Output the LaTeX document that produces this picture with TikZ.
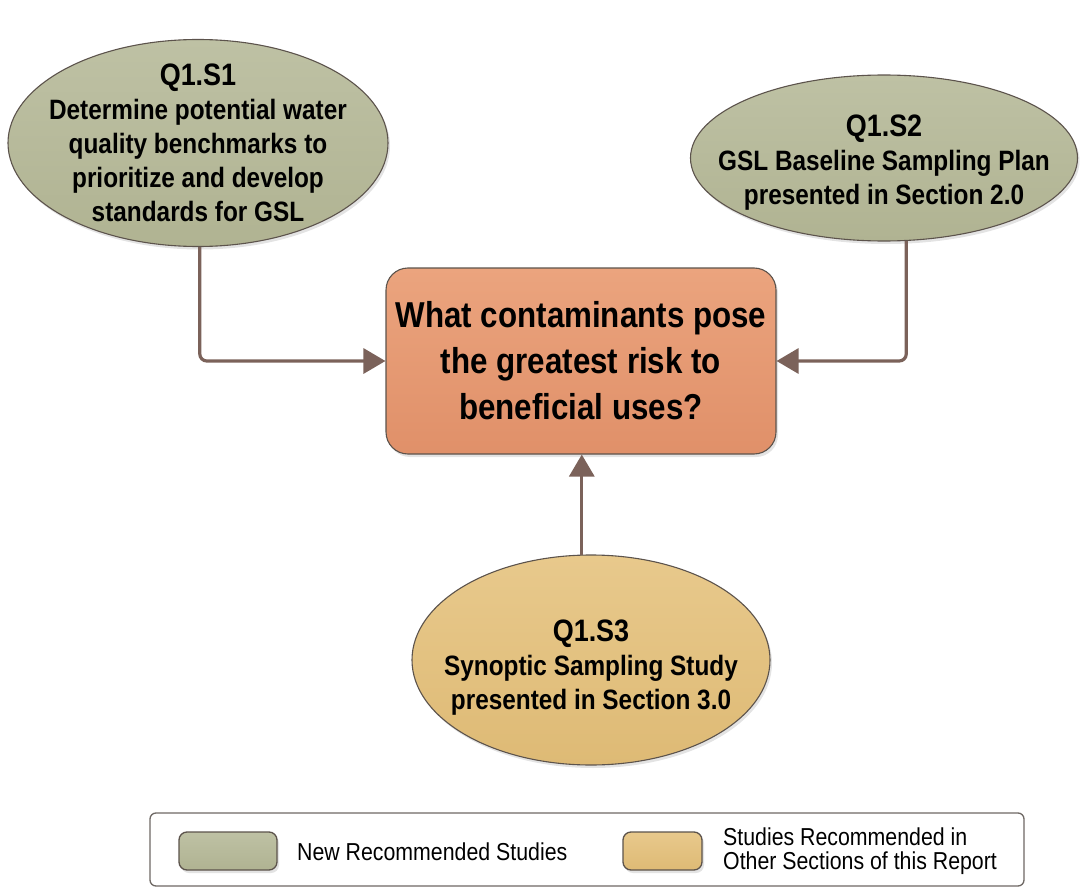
\documentclass[tikz,border=0pt]{standalone}
\usepackage{fontspec}
\setmainfont{Liberation Sans}
\newfontfamily\condensed{Liberation Sans}[FakeStretch=0.87]
\usetikzlibrary{shapes.geometric,arrows.meta,shadows}

\definecolor{edgecol}{HTML}{5C534C}
\definecolor{arrowcol}{HTML}{7B625A}
\definecolor{greentop}{HTML}{BEC1A4}
\definecolor{greenbot}{HTML}{B0B392}
\definecolor{tantop}{HTML}{E8C98C}
\definecolor{tanbot}{HTML}{DEBA75}
\definecolor{boxtop}{HTML}{EBA47E}
\definecolor{boxbot}{HTML}{E09069}
\definecolor{legedge}{HTML}{6E6864}

\tikzset{
  softshadow/.style={drop shadow={opacity=0.22,shadow xshift=2pt,shadow yshift=-3pt}},
  study/.style={ellipse,draw=edgecol,line width=1.1pt,inner sep=0pt,softshadow},
  newstudy/.style={study,top color=greentop,bottom color=greenbot},
  otherstudy/.style={study,top color=tantop,bottom color=tanbot},
  studytext/.style={align=center,inner sep=0pt,
    font=\condensed\bfseries\fontsize{28}{34}\selectfont},
  question/.style={rectangle,rounded corners=22pt,draw=edgecol,line width=1.1pt,
    top color=boxtop,bottom color=boxbot,align=center,softshadow,
    minimum width=390pt,minimum height=186pt,
    font=\condensed\bfseries\fontsize{36}{46}\selectfont},
  conn/.style={draw=arrowcol,line width=3.2pt,rounded corners=7pt,
    -{Triangle[length=22pt,width=25pt]}},
  legendframe/.style={rectangle,rounded corners=6pt,draw=legedge,line width=1.3pt,
    fill=white,minimum width=874pt,minimum height=73pt},
  swatch/.style={rectangle,rounded corners=8pt,draw=edgecol,line width=1.3pt,
    minimum height=38pt,softshadow},
  legendtext/.style={anchor=west,align=left,inner sep=0pt,
    font=\condensed\fontsize{24.5}{24}\selectfont}
}

\newcommand{\studytitle}[1]{{\fontsize{31}{34}\selectfont #1}}

\begin{document}
\begin{tikzpicture}[x=1pt,y=-1pt]
  \useasboundingbox (0,0) rectangle (1085,888);

  % study ellipses
  \node[newstudy,minimum width=380pt,minimum height=207pt] (s1) at (198,143) {};
  \node[studytext] (s1t) at (198,143)
    {\studytitle{Q1.S1}\\Determine potential water\\quality benchmarks to\\prioritize and develop\\standards for GSL};
  \node[newstudy,minimum width=387pt,minimum height=166pt] (s2) at (884,158) {};
  \node[studytext] (s2t) at (884,163)
    {\studytitle{Q1.S2}\\GSL Baseline Sampling Plan\\presented in Section 2.0};
  \node[otherstudy,minimum width=358pt,minimum height=210pt] (s3) at (591,660) {};
  \node[studytext] (s3t) at (591,668)
    {\studytitle{Q1.S3}\\Synoptic Sampling Study\\presented in Section 3.0};

  % central question
  \node[question] (q) at (581,361)
    {What contaminants pose\\the greatest risk to\\beneficial uses?};

  % connectors into the question
  \draw[conn] (s1.-89) |- (q.west);
  \draw[conn] (s2.-75.5) |- (q.east);
  \draw[conn] (s3.95.4) -- (s3.95.4 |- q.south);

  % legend
  \node[legendframe] (leg) at (587,849.5) {};
  \node[swatch,minimum width=98pt,top color=greentop,bottom color=greenbot] (swnew) at (228,851) {};
  \node[legendtext] (lnew) at (297,852) {New Recommended Studies};
  \node[swatch,minimum width=79pt,top color=tantop,bottom color=tanbot] (swother) at (662.5,851) {};
  \node[legendtext] (lother) at (723,851) {Studies Recommended in\\Other Sections of this Report};
\end{tikzpicture}
\end{document}
